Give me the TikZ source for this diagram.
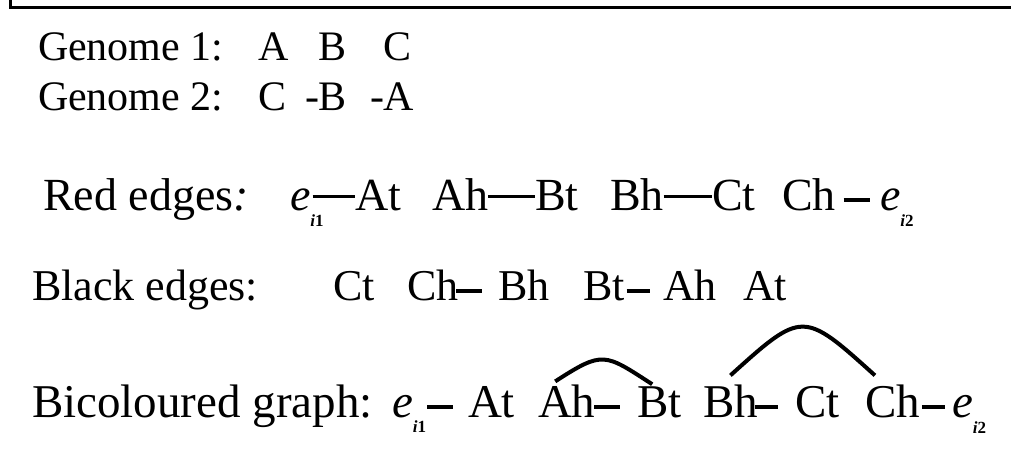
\documentclass[tikz,border=0pt]{standalone}
\usepackage{fontspec}
\setmainfont{Liberation Serif}
\newcommand\esub[3]{\textit{e}\hspace{#1}\raisebox{#2}{\fontsize{17}{17}\selectfont\bfseries\textit{i}#3}}
\begin{document}
\begin{tikzpicture}[x=1pt,y=1pt,
  lbl/.style={inner sep=0pt, outer sep=0pt, anchor=base west},
  gtxt/.style={lbl, font=\fontsize{42}{42}\selectfont},
  rtxt/.style={lbl, font=\fontsize{46}{46}\selectfont},
  ktxt/.style={lbl, font=\fontsize{44}{44}\selectfont},
  btxt/.style={lbl, font=\fontsize{47}{47}\selectfont},
  frameline/.style={line width=2.8pt},
  redge/.style={line width=3pt},
  medge/.style={line width=3.5pt},
  kedge/.style={line width=4pt},
  bedge/.style={line width=4.5pt},
  arcline/.style={line width=4pt}]
\useasboundingbox (0,0) rectangle (1011,453);
\draw[frameline] (10.5,453) -- (10.5,445.5) -- (1011,445.5);
% Genome 1
\node[gtxt] (g1) at (38,392) {Genome 1:};
\node[gtxt] (g1a) at (258,392) {A};
\node[gtxt] (g1b) at (318,392) {B};
\node[gtxt] (g1c) at (383,392) {C};
% Genome 2
\node[gtxt] (g2) at (38,342) {Genome 2:};
\node[gtxt] (g2c) at (258,342) {C};
\node[gtxt] (g2b) at (305,342) {-B};
\node[gtxt] (g2a) at (370,342) {-A};
% Red edges
\node[rtxt] (r) at (43,243) {Red edges\textit{:}};
\node[rtxt] (re1) at (290,243) {\esub{0pt}{-17pt}{1}};
\node[rtxt] (rAt) at (355,243) {At};
\node[rtxt] (rAh) at (432,243) {Ah};
\node[rtxt] (rBt) at (535,243) {Bt};
\node[rtxt] (rBh) at (610,243) {Bh};
\node[rtxt] (rCt) at (712,243) {Ct};
\node[rtxt] (rCh) at (782,243) {Ch};
\node[rtxt] (re2) at (880,243) {\esub{0pt}{-17pt}{2}};
\draw[redge, shorten <=-11pt] ([yshift=13pt]re1.base east) -- ([yshift=13pt]rAt.base west);
\draw[redge] ([yshift=13pt]rAh.base east) -- ([yshift=13pt]rBt.base west);
\draw[redge] ([yshift=13pt]rBh.base east) -- ([yshift=13pt]rCt.base west);
\draw[medge, shorten <=8pt, shorten >=10pt] ([yshift=10pt]rCh.base east) -- ([yshift=10pt]re2.base west);
% Black edges
\node[ktxt] (k) at (32,153) {Black edges:};
\node[ktxt] (kCt) at (333,153) {Ct};
\node[ktxt] (kCh) at (407,153) {Ch};
\node[ktxt] (kBh) at (498,153) {Bh};
\node[ktxt] (kBt) at (583,153) {Bt};
\node[ktxt] (kAh) at (663,153) {Ah};
\node[ktxt] (kAt) at (743,153) {At};
\draw[kedge, shorten <=-2pt, shorten >=16pt] ([yshift=9pt]kCh.base east) -- ([yshift=9pt]kBh.base west);
\draw[kedge, shorten <=2pt, shorten >=13pt] ([yshift=9pt]kBt.base east) -- ([yshift=9pt]kAh.base west);
% Bicoloured graph
\node[btxt] (b) at (32,36) {Bicoloured graph:};
\node[btxt] (be1) at (392,36) {\esub{0pt}{-15pt}{1}};
\node[btxt] (bAt) at (468,36) {At};
\node[btxt] (bAh) at (538,36) {Ah};
\node[btxt] (bBt) at (637,36) {Bt};
\node[btxt] (bBh) at (703,36) {Bh};
\node[btxt] (bCt) at (795,36) {Ct};
\node[btxt] (bCh) at (865,36) {Ch};
\node[btxt] (be2) at (952,36) {\esub{0pt}{-16pt}{2}};
\draw[bedge, shorten <=1pt, shorten >=15pt] ([yshift=10pt]be1.base east) -- ([yshift=10pt]bAt.base west);
\draw[bedge, shorten <=-1pt, shorten >=17pt] ([yshift=10pt]bAh.base east) -- ([yshift=10pt]bBt.base west);
\draw[bedge, shorten <=-3pt, shorten >=17pt] ([yshift=10pt]bBh.base east) -- ([yshift=10pt]bCt.base west);
\draw[bedge, shorten <=2pt, shorten >=7pt] ([yshift=10pt]bCh.base east) -- ([yshift=10pt]be2.base west);
\draw[arcline] ([xshift=-11.5pt,yshift=3pt]bAh.north) .. controls +(48pt,31pt) and +(-48pt,31pt) .. ([xshift=-7pt,yshift=2pt]bBt.north);
\draw[arcline] ([yshift=9pt]bBh.north) .. controls +(72pt,65pt) and +(-72pt,65pt) .. ([xshift=-17.5pt,yshift=9pt]bCh.north);
\end{tikzpicture}
\end{document}
